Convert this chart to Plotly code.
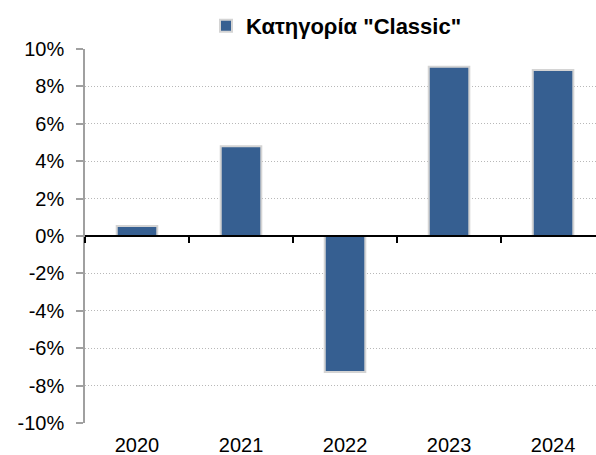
import plotly.graph_objects as go

years = ["2020", "2021", "2022", "2023", "2024"]
values = [0.53, 4.8, -7.27, 9.05, 8.88]
series_name = 'Κατηγορία "Classic"'
y_ticks = [-10, -8, -6, -4, -2, 0, 2, 4, 6, 8, 10]
y_labels = [f"{v}%" for v in y_ticks]
boundaries = [-0.5, 0.5, 1.5, 2.5, 3.5, 4.5]

fig = go.Figure()
fig.add_trace(go.Bar(
    x=list(range(len(years))), y=values, name=series_name,
    width=0.39,
    marker=dict(color="#365F91", line=dict(color="#D4D4D4", width=2)),
    showlegend=True,
))
# invisible trace on xaxis2 so the zero-line axis renders
fig.add_trace(go.Scatter(x=[0], y=[0], xaxis="x2", mode="markers",
                         marker=dict(opacity=0), showlegend=False, hoverinfo="skip"))

fig.update_layout(
    width=596, height=455,
    margin=dict(l=85, r=0, t=49, b=32, autoexpand=False),
    paper_bgcolor="white", plot_bgcolor="white",
    font=dict(family="Liberation Sans, Arial", size=20, color="black"),
    showlegend=True,
    legend=dict(orientation="h", xref="container", x=206 / 596, xanchor="left",
                yref="container", y=(455 - 26) / 455, yanchor="middle",
                font=dict(size=22, family="Liberation Sans, Arial", weight="bold"),
                itemwidth=30, tracegroupgap=0, bgcolor="rgba(0,0,0,0)"),
    xaxis=dict(range=[-0.5, 4.413], tickmode="array",
               tickvals=list(range(len(years))), ticktext=years,
               showline=False, showgrid=False, zeroline=False, ticks="",
               ticklabelstandoff=8, automargin=False),
    xaxis2=dict(overlaying="x", matches="x", anchor="free", position=0.5,
                showline=True, linecolor="black", linewidth=1.5,
                ticks="outside", ticklen=6, tickcolor="black", tickwidth=1.5,
                tickmode="array", tickvals=boundaries,
                showticklabels=False, showgrid=False, zeroline=False,
                automargin=False),
    yaxis=dict(range=[-10, 10], tickmode="array", tickvals=y_ticks, ticktext=y_labels,
               showline=True, linecolor="#A0A0A0", linewidth=1.5,
               ticks="outside", ticklen=7, tickcolor="#A0A0A0", tickwidth=1.5,
               showgrid=True, gridcolor="#B8B8B8", griddash="1px,2px", gridwidth=1,
               zeroline=False, ticklabelstandoff=8, automargin=False),
)

fig.write_html("out.html", config={"displayModeBar": False},
               post_script="document.body.style.margin='0';")
